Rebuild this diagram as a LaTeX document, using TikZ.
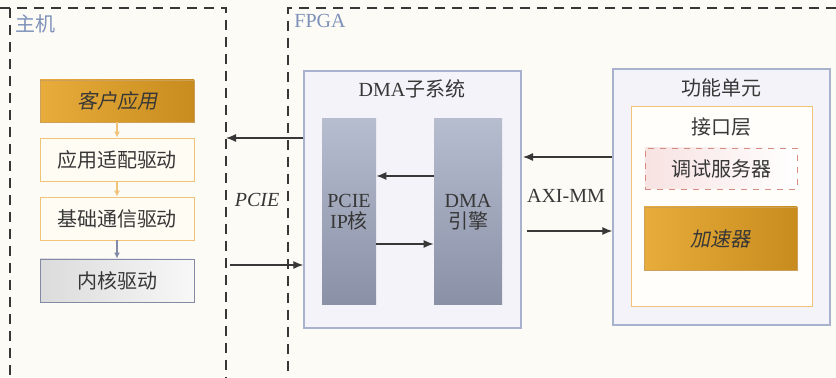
\documentclass[tikz,border=0pt]{standalone}
\usepackage{fontspec}
\setmainfont{Liberation Serif}
\newfontfamily\cjk{Noto Sans CJK SC}
\newfontfamily\cjkit[FakeSlant=0.2]{Noto Sans CJK SC}
\usetikzlibrary{arrows.meta}
\definecolor{ink}{RGB}{55,55,55}
\definecolor{zonelab}{RGB}{125,145,185}
\definecolor{paper}{RGB}{252,251,246}
\definecolor{golddark}{RGB}{200,140,30}
\definecolor{goldlight}{RGB}{232,172,60}
\definecolor{goldedge}{RGB}{205,160,90}
\definecolor{softorange}{RGB}{240,195,120}
\definecolor{cream}{RGB}{255,252,244}
\definecolor{steel}{RGB}{130,138,165}
\definecolor{barhi}{RGB}{182,189,207}
\definecolor{barlo}{RGB}{138,144,166}
\definecolor{lavender}{RGB}{243,243,249}
\definecolor{frameblue}{RGB}{168,178,204}
\definecolor{debugred}{RGB}{215,140,130}
\definecolor{debugpink}{RGB}{248,226,226}
\tikzset{
  zone/.style={draw=ink,line width=1pt,dash pattern=on 5pt off 3.5pt},
  zlab/.style={font=\fontsize{10}{12}\selectfont,text=zonelab,anchor=west,inner sep=0pt},
  goldbox/.style={draw=goldedge,left color=goldlight,right color=golddark,minimum width=77pt,minimum height=21pt,inner sep=0pt,font=\fontsize{10}{12}\cjkit,text=ink},
  drvbox/.style={draw=softorange,fill=cream,minimum width=77pt,minimum height=21.5pt,inner sep=0pt,font=\fontsize{10}{12}\cjk,text=ink},
  kernbox/.style={draw=steel,left color=black!14,right color=black!3,minimum width=77pt,minimum height=21.5pt,inner sep=0pt,font=\fontsize{10}{12}\cjk,text=ink},
  sysbox/.style={draw=frameblue,fill=lavender,line width=0.7pt,minimum width=108.5pt,inner sep=0pt},
  bar/.style={top color=barhi,bottom color=barlo,draw=none,minimum height=93pt,inner sep=0pt,align=center,font=\fontsize{10}{10.5}\selectfont,text=ink},
  title/.style={font=\fontsize{10}{12}\selectfont,text=ink,inner sep=0pt},
  arr/.style={-{Latex[length=5pt,width=4pt]},ink,line width=0.6pt},
  tinyarr/.style={-{Latex[length=3pt,width=3pt]},line width=0.6pt}
}
\begin{document}
\begin{tikzpicture}[x=0.5pt,y=-0.5pt]
  \fill[paper] (0,0) rectangle (836,378);
  \useasboundingbox (0,0) rectangle (836,378);
  % host and FPGA zones
  \draw[zone] (0,8) -- (226,8) -- (226,378);
  \draw[zone] (10,8) -- (10,378);
  \draw[zone] (836,8) -- (288,8) -- (288,378);
  \node[zlab] (hostlab) at (15,24) {\cjk 主机};
  \node[zlab] (fpgalab) at (294,21) {FPGA};
  % host software stack
  \node[goldbox] (app) at (117,101) {客户应用};
  \node[drvbox] (adapt) at (117,159.5) {应用适配驱动};
  \node[drvbox] (comm) at (117,218.5) {基础通信驱动};
  \node[kernbox] (kern) at (117,280.5) {内核驱动};
  \draw[tinyarr,softorange] (app) -- (adapt);
  \draw[tinyarr,softorange] (adapt) -- (comm);
  \draw[tinyarr,steel] (comm) -- (kern);
  % DMA subsystem
  \node[sysbox,minimum height=128.5pt] (dma) at (412.5,199.5) {};
  \node[title] (dmatitle) at (412,89) {DMA{\cjk 子系统}};
  \node[bar,minimum width=27pt] (pcieip) at (349,212) {PCIE\\IP{\cjk 核}};
  \node[bar,minimum width=34pt] (engine) at (468,212) {DMA\\{\cjk 引擎}};
  \coordinate (eng1) at (434,176);
  \coordinate (ip2) at (376,244);
  \draw[arr] (eng1) -- (pcieip.east |- eng1);
  \draw[arr] (ip2) -- (engine.west |- ip2);
  % function unit
  \node[sysbox,minimum height=128pt] (func) at (721.5,197) {};
  \node[title] (functitle) at (721,88) {\cjk 功能单元};
  \node[draw=softorange,fill=white!60!cream,minimum width=90.5pt,minimum height=100pt,inner sep=0pt] (iface) at (721.5,206) {};
  \node[title] (ifacetitle) at (721,127) {\cjk 接口层};
  \node[draw=debugred,dashed,left color=debugpink,right color=white,minimum width=76pt,minimum height=20.5pt,inner sep=0pt,font=\fontsize{10}{12}\cjk,text=ink] (debug) at (721,168.5) {调试服务器};
  \node[goldbox,minimum width=76.5pt,minimum height=31.5pt] (accel) at (720.5,238.5) {加速器};
  % PCIE link
  \coordinate (hostin) at (226,138);
  \coordinate (hostout) at (230,265);
  \draw[arr] (dma.west |- hostin) -- (hostin);
  \draw[arr] (hostout) -- (dma.west |- hostout);
  \node[title,font=\fontsize{10}{12}\itshape] (pcielab) at (257,200) {PCIE};
  % AXI-MM link
  \coordinate (axiin) at (523,157);
  \coordinate (axiout) at (527,231);
  \draw[arr] (func.west |- axiin) -- (axiin);
  \draw[arr] (axiout) -- (func.west |- axiout);
  \node[title] (axilab) at (566,196) {AXI-MM};
\end{tikzpicture}
\end{document}
